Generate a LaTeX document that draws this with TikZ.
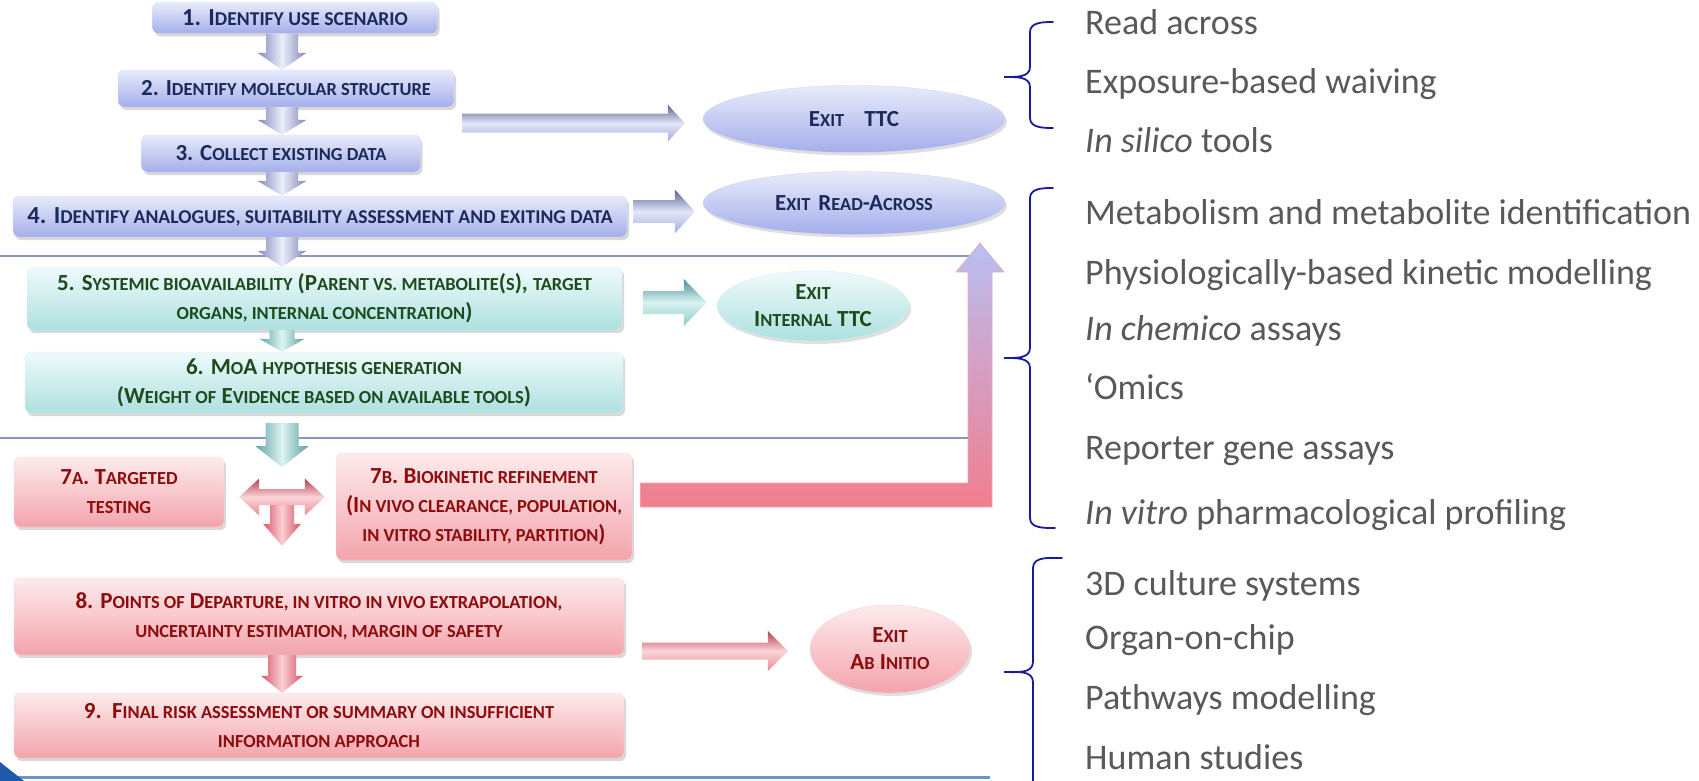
\documentclass[tikz,border=0pt]{standalone}
\usepackage{fontspec}
\setmainfont{Carlito}
\usetikzlibrary{shapes.geometric,shadows,calc}
\definecolor{bT}{HTML}{E8EBFB}\definecolor{bB}{HTML}{A4AEEA}\definecolor{bTx}{HTML}{1C2A5A}
\definecolor{tT}{HTML}{EFFAFA}\definecolor{tB}{HTML}{AEE0E0}\definecolor{tTx}{HTML}{1E4B1E}
\definecolor{pT}{HTML}{FDEBEC}\definecolor{pB}{HTML}{F3A4AC}\definecolor{pTx}{HTML}{8E0B0B}
\definecolor{brk}{HTML}{1A1A9C}\definecolor{itm}{HTML}{595959}\definecolor{sepc}{HTML}{8A96BA}
\definecolor{botline}{HTML}{6E93CF}\definecolor{cornerc}{HTML}{1F5BAA}
\definecolor{bdL}{HTML}{8088BC}\definecolor{bdR}{HTML}{7F86B6}\definecolor{bdM}{HTML}{ECEEFB}
\definecolor{tdL}{HTML}{62A3A3}\definecolor{tdR}{HTML}{5C9C9C}\definecolor{tdM}{HTML}{DDF4F4}
\definecolor{pdL}{HTML}{D85666}\definecolor{pdR}{HTML}{D45264}\definecolor{pdM}{HTML}{FBD0D5}
\definecolor{brT}{HTML}{56618F}\definecolor{brB}{HTML}{A5AEDF}\definecolor{brM}{HTML}{E2E6F9}
\definecolor{trT}{HTML}{4F8F8F}\definecolor{trB}{HTML}{8FCACA}\definecolor{trM}{HTML}{DAF3F3}
\definecolor{prT}{HTML}{B04050}\definecolor{prB}{HTML}{E88A94}\definecolor{prM}{HTML}{FBD4D8}
\definecolor{Ltop}{HTML}{B9BFF3}\definecolor{Lmid}{HTML}{A9A6E6}\definecolor{Lbot}{HTML}{F27D8E}
\makeatletter
\newcommand\smc[1]{{\fontsize{\strip@pt\dimexpr0.8\dimexpr\f@size pt\relax\relax}{\f@baselineskip}\selectfont #1}}
\makeatother
% vertical (down) block arrow: from, to, shaft half, head half, head length, style
\newcommand\darr[6]{\shade[#6] let \p1=(#1), \p2=(#2) in
  (\x1-#3,\y1) -- (\x1+#3,\y1) -- (\x1+#3,\y2+#5) -- (\x1+#4,\y2+#5) -- (\x1,\y2)
  -- (\x1-#4,\y2+#5) -- (\x1-#3,\y2+#5) -- cycle;}
% horizontal (right) block arrow
\newcommand\rarr[6]{\shade[#6] let \p1=(#1), \p2=(#2) in
  (\x1,\y1+#3) -- (\x2-#5,\y1+#3) -- (\x2-#5,\y1+#4) -- (\x2,\y1) -- (\x2-#5,\y1-#4)
  -- (\x2-#5,\y1-#3) -- (\x1,\y1-#3) -- cycle;}
% double horizontal block arrow
\newcommand\dblarr[6]{\shade[#6] let \p1=(#1), \p2=(#2) in
  (\x1,\y1) -- (\x1+#5,\y1+#4) -- (\x1+#5,\y1+#3) -- (\x2-#5,\y1+#3) -- (\x2-#5,\y1+#4)
  -- (\x2,\y1) -- (\x2-#5,\y1-#4) -- (\x2-#5,\y1-#3) -- (\x1+#5,\y1-#3) -- (\x1+#5,\y1-#4) -- cycle;}
\tikzset{
  box/.style={rounded corners=6pt, inner sep=0pt, align=center,
    font=\bfseries\fontsize{23}{29}\selectfont,
    drop shadow={shadow xshift=2pt,shadow yshift=-3pt,opacity=0.3}},
  bbox/.style={box, top color=bT, bottom color=bB, draw=white!60!bB, text=bTx},
  tbox/.style={box, top color=tT, bottom color=tB, draw=white!60!tB, text=tTx},
  pbox/.style={box, top color=pT, bottom color=pB, draw=white!60!pB, text=pTx},
  ell/.style={ellipse, inner sep=0pt, align=center,
    font=\bfseries\fontsize{23}{27}\selectfont,
    drop shadow={shadow xshift=2pt,shadow yshift=-3pt,opacity=0.25}},
  bell/.style={ell, top color=bT, bottom color=bB, draw=white!50!bB, text=bTx},
  tell/.style={ell, top color=tT, bottom color=tB, draw=white!50!tB, text=tTx},
  pell/.style={ell, top color=pT, bottom color=pB, draw=white!50!pB, text=pTx},
  item/.style={anchor=base west, inner sep=0pt, text=itm, font=\fontsize{36}{40}\selectfont},
  bracket/.style={draw=brk, line width=1.8pt, line cap=round},
  sepline/.style={draw=sepc, line width=1.2pt},
  bdown/.style={left color=bdL, right color=bdR, middle color=bdM},
  tdown/.style={left color=tdL, right color=tdR, middle color=tdM},
  pdown/.style={left color=pdL, right color=pdR, middle color=pdM},
  bright/.style={top color=brT, bottom color=brB, middle color=brM},
  tright/.style={top color=trT, bottom color=trB, middle color=trM},
  pright/.style={top color=prT, bottom color=prB, middle color=prM},
}
\begin{document}
\begin{tikzpicture}[x=1pt,y=-1pt]
\useasboundingbox (0,0) rectangle (1699,781);
\fill[white] (0,0) rectangle (1699,781);

% separator lines and bottom decoration
\draw[sepline] (0,256) -- (985,256);
\draw[sepline] (0,438) -- (985,438);
\draw[draw=botline, line width=3pt] (0,777) -- (990,777);
\fill[cornerc] (0,762) -- (24,781) -- (0,781) -- cycle;

% boxes
\node[bbox, minimum width=285, minimum height=31, font=\bfseries\fontsize{24.5}{29}\selectfont] (b1) at (295,18) {1. I\smc{DENTIFY USE SCENARIO}};
\node[bbox, minimum width=336, minimum height=37] (b2) at (286,88.5) {2. I\smc{DENTIFY MOLECULAR STRUCTURE}};
\node[bbox, minimum width=279, minimum height=37] (b3) at (281,153.5) {3. C\smc{OLLECT EXISTING DATA}};
\node[bbox, minimum width=614, minimum height=41, font=\bfseries\fontsize{24.5}{29}\selectfont] (b4) at (320,216.5) {4. I\smc{DENTIFY ANALOGUES, SUITABILITY ASSESSMENT AND EXITING DATA}};
\node[tbox, minimum width=595, minimum height=63] (b5) at (324.5,298.5) {5. S\smc{YSTEMIC BIOAVAILABILITY} (P\smc{ARENT VS. METABOLITE}(\smc{S}), \smc{TARGET}\\ \smc{ORGANS, INTERNAL CONCENTRATION})};
\node[tbox, minimum width=598, minimum height=61] (b6) at (324,382.5) {6. M\smc{O}A \smc{HYPOTHESIS GENERATION}\\ (W\smc{EIGHT OF} E\smc{VIDENCE BASED ON AVAILABLE TOOLS})};
\node[pbox, minimum width=210, minimum height=70] (b7a) at (119,492) {7\smc{A}. T\smc{ARGETED}\\ \smc{TESTING}};
\node[pbox, minimum width=296, minimum height=107] (b7b) at (484,506.5) {7\smc{B}. B\smc{IOKINETIC REFINEMENT}\\ (I\smc{N VIVO CLEARANCE, POPULATION,}\\ \smc{IN VITRO STABILITY, PARTITION})};
\node[pbox, minimum width=610, minimum height=77] (b8) at (319,616.5) {8. P\smc{OINTS OF} D\smc{EPARTURE, IN VITRO IN VIVO EXTRAPOLATION,}\\ \smc{UNCERTAINTY ESTIMATION, MARGIN OF SAFETY}};
\node[pbox, minimum width=610, minimum height=65] (b9) at (319,725.5) {9.\ \ F\smc{INAL RISK ASSESSMENT OR SUMMARY ON INSUFFICIENT}\\ \smc{INFORMATION APPROACH}};

% exits
\node[bell, minimum width=302, minimum height=67] (eTTC) at (854,119) {E\smc{XIT}\hspace{20pt}TTC};
\node[bell, minimum width=302, minimum height=63] (eRA) at (854,203) {E\smc{XIT}\hspace{8pt}R\smc{EAD}-A\smc{CROSS}};
\node[tell, minimum width=192, minimum height=70] (eITTC) at (813,306) {E\smc{XIT}\\ I\smc{NTERNAL} TTC};
\node[pell, minimum width=160, minimum height=88] (eAI) at (890,649) {E\smc{XIT}\\ A\smc{B} I\smc{NITIO}};

% arrow coordinates
\coordinate (col) at (282,0);
\coordinate (s2) at ($(b2.south east)+(8,16)$);
\coordinate (tT) at ($(b7a.east)+(15,5)$);
\coordinate (uptip) at ($(eRA.center)+(126,40)$);
\coordinate (lstart) at ($(b7b.east)+(8,-11.5)$);

% down arrows
\darr{b1.south -| col}{b2.north -| col}{16pt}{24.5pt}{17pt}{bdown}
\darr{b2.south -| col}{b3.north -| col}{16pt}{24.5pt}{15pt}{bdown}
\darr{b3.south -| col}{b4.north -| col}{16pt}{24.5pt}{15pt}{bdown}
\darr{b4.south -| col}{b5.north -| col}{16pt}{24.5pt}{16pt}{bdown}
\darr{b5.south -| col}{b6.north -| col}{12.5pt}{22.5pt}{13pt}{tdown}
\darr{$(b6.south -| col)+(0,10)$}{$(b6.south -| col)+(0,54)$}{16.5pt}{26.5pt}{21pt}{tdown}
\darr{col |- tT}{$(b8.north -| col)+(0,-32)$}{12pt}{19pt}{22pt}{pdown}
\darr{b8.south -| col}{b9.north -| col}{14pt}{21pt}{17pt}{pdown}
\dblarr{tT}{$(b7b.west |- tT)+(-11,0)$}{8pt}{18.5pt}{20pt}{pright}

% right arrows
\rarr{s2}{$(eTTC.west |- s2)+(-18,0)$}{9.5pt}{18.5pt}{17pt}{bright}
\rarr{$(b4.east)+(6,-5)$}{$(eRA.west |- b4.east)+(-8,-5)$}{11.5pt}{22pt}{20pt}{bright}
\rarr{$(b5.east)+(21,4)$}{$(eITTC.west |- b5.east)+(-10,4)$}{11.5pt}{23.5pt}{23pt}{tright}
\rarr{$(b8.east |- eAI.west)+(18,2)$}{$(eAI.west)+(-22,2)$}{8.5pt}{20pt}{20pt}{pright}

% L-shaped return arrow from 7B to Exit Read-Across
\shade[top color=Ltop, middle color=Lmid, bottom color=Lbot, draw=pdL!50, line width=0.6pt]
  let \p1=(lstart), \p2=(uptip) in
  (\x1,\y1+12pt) -- (\x2-12pt,\y1+12pt) -- (\x2-12pt,\y2-29pt) -- (\x2-24pt,\y2-29pt) -- (\x2,\y2)
  -- (\x2+24pt,\y2-29pt) -- (\x2+12pt,\y2-29pt) -- (\x2+12pt,\y1-12pt) -- (\x1,\y1-12pt) -- cycle;

% brackets
\draw[bracket] (1053,22) to[out=180,in=90] (1030,32) -- (1030,67) to[out=-90,in=0] (1004,77)
  to[out=0,in=90] (1030,87) -- (1030,118) to[out=-90,in=180] (1053,128);
\draw[bracket] (1053,188) to[out=180,in=90] (1030,198) -- (1030,348) to[out=-90,in=0] (1004,358)
  to[out=0,in=90] (1030,368) -- (1030,518) to[out=-90,in=180] (1055,528);
\draw[bracket] (1062,558) to[out=180,in=90] (1033,568) -- (1033,662) to[out=-90,in=0] (1004,672)
  to[out=0,in=90] (1033,682) -- (1033,790);

% right-hand lists
\node[item] (r1) at (1085,35) {Read across};
\node[item] (r2) at (1085,94) {Exposure-based waiving};
\node[item] (r3) at (1085,153) {\textit{In silico} tools};
\node[item] (r4) at (1085,224) {Metabolism and metabolite identification};
\node[item] (r5) at (1085,284) {Physiologically-based kinetic modelling};
\node[item] (r6) at (1085,340) {\textit{In chemico} assays};
\node[item] (r7) at (1085,399) {‘Omics};
\node[item] (r8) at (1085,459) {Reporter gene assays};
\node[item] (r9) at (1085,524) {\textit{In vitro} pharmacological profiling};
\node[item] (r10) at (1085,595) {3D culture systems};
\node[item] (r11) at (1085,649) {Organ-on-chip};
\node[item] (r12) at (1085,709) {Pathways modelling};
\node[item] (r13) at (1085,769) {Human studies};
\end{tikzpicture}
\end{document}
